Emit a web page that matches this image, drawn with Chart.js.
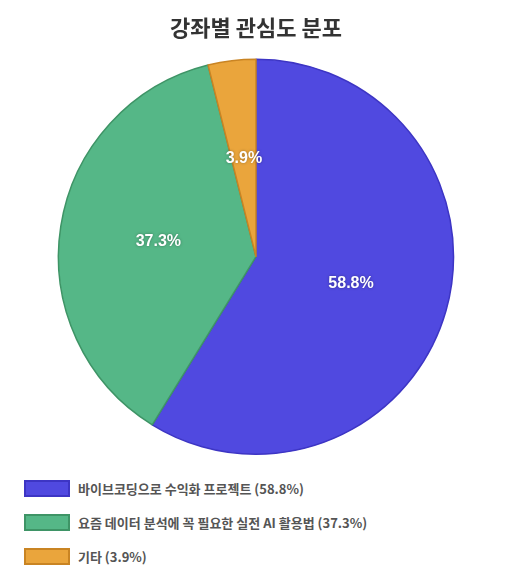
<!DOCTYPE html>
<html><head><meta charset="utf-8">
<script src="https://cdn.jsdelivr.net/npm/chart.js@4"></script>
<style>
body{margin:0;background:#fff;font-family:"Noto Sans CJK KR",sans-serif;}
#wrap{width:512px;height:465px;position:relative;}
#legend{padding-left:24px;margin-top:6px;}
.item{display:flex;align-items:center;height:34px;font-size:13px;font-weight:bold;color:#555;}
.box{width:42px;height:13px;margin-right:8px;border:2px solid;}
</style></head>
<body>
<div id="wrap"><canvas id="pie"></canvas></div>
<div id="legend"></div>
<script>
const labels = ['바이브코딩으로 수익화 프로젝트', '요즘 데이터 분석에 꼭 필요한 실전 AI 활용법', '기타'];
const values = [58.8, 37.3, 3.9];
const fills = ['#5049e0', '#55b787', '#eaa53c'];
const borders = ['#3d35c4', '#3e9466', '#c98423'];

const sliceLabels = {
  id: 'sliceLabels',
  afterDatasetsDraw(chart){
    const ctx = chart.ctx;
    const meta = chart.getDatasetMeta(0);
    ctx.save();
    ctx.font = 'bold 16px "Liberation Sans", Arial, sans-serif';
    ctx.textAlign = 'center';
    ctx.textBaseline = 'middle';
    ctx.fillStyle = '#fff';
    ctx.shadowColor = 'rgba(0,0,0,0.35)';
    ctx.shadowBlur = 3;
    meta.data.forEach((arc, i) => {
      const p = arc.getCenterPoint();
      ctx.fillText(values[i].toFixed(1) + '%', p.x, p.y);
    });
    ctx.restore();
  }
};

new Chart(document.getElementById('pie').getContext('2d'), {
  type: 'pie',
  data: { labels, datasets: [{ data: values, backgroundColor: fills, borderColor: borders, borderWidth: 1.5 }] },
  options: {
    responsive: true,
    maintainAspectRatio: false,
    animation: false,
    layout: { padding: { bottom: 10 } },
    plugins: {
      legend: { display: false },
      tooltip: { enabled: false },
      title: { display: true, text: '강좌별 관심도 분포', color: '#333',
        font: { size: 22, weight: 'bold', family: '"Noto Sans CJK KR"' }, padding: { top: 14, bottom: 18 } }
    }
  },
  plugins: [sliceLabels]
});

const leg = document.getElementById('legend');
labels.forEach((l, i) => {
  const d = document.createElement('div');
  d.className = 'item';
  d.innerHTML = `<span class="box" style="background:${fills[i]};border-color:${borders[i]}"></span>${l} (${values[i].toFixed(1)}%)`;
  leg.appendChild(d);
});
</script>
</body></html>
